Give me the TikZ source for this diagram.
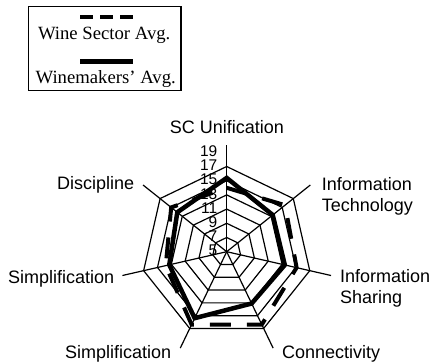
\documentclass[tikz,border=0pt]{standalone}
\usepackage{fontspec}
\setmainfont{Liberation Serif}
\newfontfamily\arialf{Liberation Sans}
\begin{document}
\begin{tikzpicture}[x=1pt,y=1pt,
  gridline/.style={line width=1.2pt, line join=miter},
  solidseries/.style={line width=4.5pt, line join=miter},
  dashseries/.style={line width=4pt, line join=miter, dash pattern=on 21pt off 16pt},
  catlabel/.style={font=\arialf\fontsize{18}{21}\selectfont, inner sep=0pt, anchor=base west},
  numlabel/.style={font=\arialf\fontsize{15.5}{16}\selectfont, inner sep=0pt, anchor=east},
  legtext/.style={font=\fontsize{18.7}{20}\selectfont, inner sep=0pt, anchor=base}]
\useasboundingbox (0,0) rectangle (432,-364);

% legend
\node[draw, line width=1.2pt, minimum width=152.7pt, minimum height=84pt, inner sep=0pt] (legend) at (104.65,-48.7) {};
\coordinate (dsA) at (80,-16.7);
\coordinate (dsB) at (133.3,-16.7);
\draw[line width=4pt, dash pattern=on 13.3pt off 6.7pt] (dsA) -- (dsB);
\node[legtext] (legWS) at (104.2,-39.3) {Wine Sector Avg.};
\coordinate (ssA) at (80,-61.7);
\coordinate (ssB) at (133.3,-61.7);
\draw[line width=4.5pt] (ssA) -- (ssB);
\node[legtext] (legWM) at (105.7,-83.3) {Winemakers’ Avg.};

% radar chart
\begin{scope}[shift={(226.7,-251.7)}]
  \coordinate (ctr) at (0,0);
  \foreach \k in {1,...,6}{
    \pgfmathsetmacro{\rr}{14.2*\k}
    \draw[gridline] (90:\rr) \foreach \i in {1,...,6}{ -- ({90-360/7*\i}:\rr)} -- cycle;
  }
  \foreach \i in {0,...,6}{
    \coordinate (ax\i) at ({90-360/7*\i}:107);
    \draw[gridline] (ctr) -- (ax\i);
  }
  % Wine Sector Avg. (dashed)
  \draw[dashseries] (90:63.9) -- (38.571:74.6) -- (-12.857:71.7) -- (-64.286:80.9)
     -- (-115.714:80.9) -- (-167.143:62.5) -- (141.429:71.0) -- cycle;
  % Winemakers' Avg. (solid)
  \draw[solidseries] (90:73.8) -- (38.571:58.9) -- (-12.857:59.6) -- (-64.286:57.5)
     -- (-115.714:73.8) -- (-167.143:58.9) -- (141.429:63.2) -- cycle;
  % scale numbers
  \foreach \v in {5,7,...,19}{
    \node[numlabel] (n\v) at (-9.2,{7.1*(\v-5)+1}) {\v};
  }
\end{scope}

% category labels
\node[catlabel, anchor=base] (c0) at (227,-133) {SC Unification};
\node[catlabel] (c1a) at (321.7,-190) {Information};
\node[catlabel] (c1b) at (321.7,-211) {Technology};
\node[catlabel] (c2a) at (340,-282) {Information};
\node[catlabel] (c2b) at (340,-303) {Sharing};
\node[catlabel] (c3) at (282,-358) {Connectivity};
\node[catlabel] (c4) at (65,-358) {Simplification};
\node[catlabel] (c5) at (8,-283) {Simplification};
\node[catlabel] (c6) at (57,-189.5) {Discipline};
\end{tikzpicture}
\end{document}
